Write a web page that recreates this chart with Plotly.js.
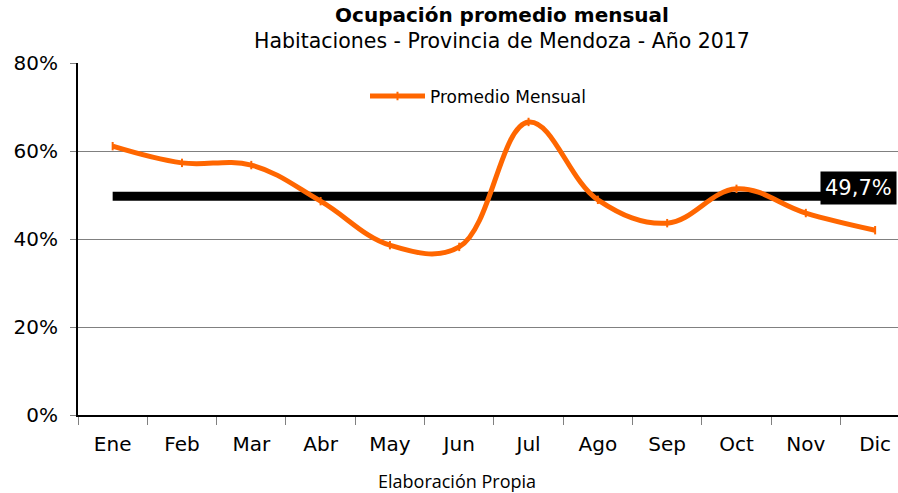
<!DOCTYPE html>
<html>
<head>
<meta charset="utf-8">
<script src="https://cdn.plot.ly/plotly-3.0.1.min.js"></script>
<style>html,body{margin:0;padding:0;background:#fff;}#chart{width:898px;height:493px;}</style>
</head>
<body>
<div id="chart"></div>
<script>
const meses = ["Ene","Feb","Mar","Abr","May","Jun","Jul","Ago","Sep","Oct","Nov","Dic"];
const ocupacion = [61.1, 57.3, 56.8, 48.6, 38.6, 38.2, 66.6, 48.9, 43.6, 51.4, 45.9, 42.0];
const promedioAnual = 49.7;
const promedioLabel = "49,7%";
const serieNombre = "Promedio Mensual";
const titulo = "Ocupación promedio mensual";
const subtitulo = "Habitaciones - Provincia de Mendoza - Año 2017";
const fuente = "Elaboración Propia";

const FONT = "DejaVu Sans, Verdana, sans-serif";

const tracePromedio = {
  x: meses,
  y: meses.map(() => promedioAnual),
  type: "scatter",
  mode: "lines",
  line: {color: "#000000", width: 9},
  showlegend: false,
  hoverinfo: "skip"
};
const traceMensual = {
  x: meses,
  y: ocupacion,
  type: "scatter",
  mode: "lines+markers",
  name: serieNombre,
  line: {color: "#FF6600", width: 5, shape: "spline", smoothing: 1.1},
  marker: {symbol: "line-ns", size: 6, color: "#FF6600", line: {color: "#FF6600", width: 2}}
};

const layout = {
  width: 898, height: 493,
  margin: {l: 78, r: 0, t: 63, b: 78},
  paper_bgcolor: "#ffffff", plot_bgcolor: "#ffffff",
  font: {family: FONT, color: "#000000"},
  title: {
    text: "<b>" + titulo + "</b>",
    font: {size: 20, family: FONT, color: "#000"},
    xref: "paper", x: (502 - 78) / 820, xanchor: "center",
    yref: "container", y: 1 - 15 / 493, yanchor: "middle"
  },
  xaxis: {
    type: "category",
    range: [-0.5, 11.33],
    showline: true, linecolor: "#000", linewidth: 2,
    ticks: "outside", ticklen: 8, tickcolor: "#808080", tickwidth: 1,
    tickson: "boundaries",
    showgrid: false,
    ticklabelstandoff: 10,
    tickfont: {size: 20, family: FONT, color: "#000"}
  },
  yaxis: {
    range: [0, 80], dtick: 20, ticksuffix: "%",
    showline: true, linecolor: "#000", linewidth: 2,
    ticks: "outside", ticklen: 6, tickcolor: "#808080",
    showgrid: true, gridcolor: "#808080", gridwidth: 1,
    zeroline: false,
    ticklabelstandoff: 8,
    tickfont: {size: 20, family: FONT, color: "#000"}
  },
  legend: {
    x: 0.35, y: 0.905, xanchor: "left", yanchor: "middle",
    bgcolor: "rgba(0,0,0,0)",
    font: {size: 17, family: FONT, color: "#000"},
    itemwidth: 55
  },
  annotations: [
    {
      x: meses[meses.length - 1], y: promedioAnual, xref: "x", yref: "y",
      text: promedioLabel, showarrow: false,
      xshift: -17, yshift: 8,
      bgcolor: "#000000", borderpad: 4,
      font: {size: 21, color: "#ffffff", family: FONT}
    },
    {
      xref: "paper", yref: "paper", x: (502 - 78) / 820, y: 1 + (63 - 41) / 352,
      xanchor: "center", yanchor: "middle",
      text: subtitulo, showarrow: false,
      font: {size: 20.5, family: FONT, color: "#000"}
    },
    {
      xref: "paper", yref: "paper", x: (457 - 78) / 820, y: -(481 - 415) / 352,
      xanchor: "center", yanchor: "middle",
      text: fuente, showarrow: false,
      font: {size: 18, family: "Open Sans, sans-serif", color: "#000"}
    }
  ]
};

Plotly.newPlot("chart", [tracePromedio, traceMensual], layout, {displayModeBar: false, staticPlot: true});
</script>
</body>
</html>
